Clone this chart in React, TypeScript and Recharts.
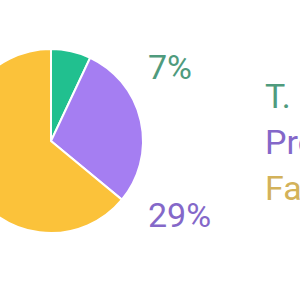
import { PieChart, Pie, Cell, Legend } from "recharts";

const macros = ["T. Carbs", "Protein", "Fat"];
const shares = [7, 29, 64];
const sliceColors = ["#21c08f", "#a57ef2", "#fbc23a"];
const textColors = ["#4f9b7d", "#8468c9", "#d3b25a"];

const data = macros.map((name, i) => ({ name, value: shares[i] }));

function renderLabel(props: any) {
  const { cx, cy, outerRadius, index, percent } = props;
  if (index > 1) return null;
  const y = cy + (index === 0 ? -74 : 74);
  return (
    <text
      x={cx + outerRadius + 5}
      y={y}
      fill={textColors[index]}
      textAnchor="start"
      dominantBaseline="central"
      fontSize={34}
      fontFamily="Roboto"
    >
      {`${Math.round(percent * 100)}%`}
    </text>
  );
}

function LegendList() {
  return (
    <div style={{ fontFamily: "Roboto", fontSize: 34, lineHeight: "46px", whiteSpace: "nowrap" }}>
      {macros.map((m, i) => (
        <div key={m} style={{ color: textColors[i] }}>
          {m}
        </div>
      ))}
    </div>
  );
}

export default function App() {
  return (
    <div style={{ position: "absolute", left: 0, top: 0, width: 300, height: 300, overflow: "hidden", background: "#fff" }}>
      <PieChart width={300} height={300} margin={{ top: 0, right: 0, bottom: 0, left: 0 }} style={{ overflow: "visible" }}>
        <Pie
          data={data}
          dataKey="value"
          nameKey="name"
          cx={51}
          cy={141}
          outerRadius={92}
          startAngle={90}
          endAngle={-270}
          stroke="#fff"
          strokeWidth={2}
          label={renderLabel}
          labelLine={false}
          isAnimationActive={false}
        >
          {data.map((d, i) => (
            <Cell key={d.name} fill={sliceColors[i]} />
          ))}
        </Pie>
        <Legend
          content={() => <LegendList />}
          wrapperStyle={{ position: "absolute", left: 265, top: 73, width: 200 }}
        />
      </PieChart>
    </div>
  );
}
